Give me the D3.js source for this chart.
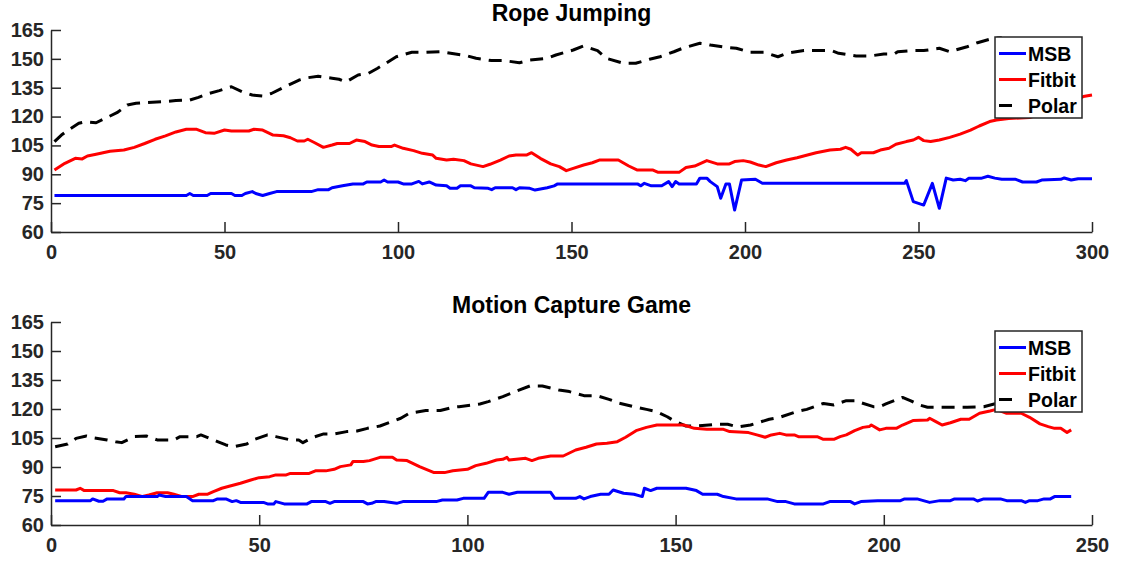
<!DOCTYPE html>
<html>
<head>
<meta charset="utf-8">
<script src="https://cdn.jsdelivr.net/npm/d3@7"></script>
<style>
  body { margin: 0; background: #fff; }
  text { font-family: "Liberation Sans", Arial, Helvetica, sans-serif; font-weight: bold; }
</style>
</head>
<body>
<script>
// Heart rate comparison: MSB vs Fitbit vs Polar

let svgWidth = 1125;
let svgHeight = 565;

let yTicks = [60, 75, 90, 105, 120, 135, 150, 165];
let seriesNames = ["MSB", "Fitbit", "Polar"];

// Rope Jumping
let ropeTicks = [0, 50, 100, 150, 200, 250, 300];
let ropeMsbT = [1, 39, 40, 41, 45, 46, 52, 53, 55, 56, 58, 59, 61, 63, 65, 75, 77, 80, 81, 84, 87, 90, 91, 95, 96, 97, 100, 101.5, 104, 106, 107, 109, 111, 114, 115, 117, 118, 121, 122, 126, 127, 128, 133, 134, 135, 138, 139.5, 143, 145, 146, 169, 170, 171, 173, 176, 178, 179, 180, 181, 186, 187, 189, 190, 192, 193, 194.5, 195.5, 197, 199, 203, 205, 246, 246.5, 248.5, 251.5, 254, 256, 258, 260, 262, 263.5, 264.5, 268, 270, 272, 274, 278, 280, 284, 285.5, 291, 292, 294, 296, 300];
let ropeMsbV = [79, 79, 80, 79, 79, 80, 80, 79, 79, 80, 81, 80, 79, 80, 81, 81, 82, 82, 83, 84, 85, 85, 86, 86, 87, 86, 86, 85, 85, 86.3, 85, 86, 84.4, 84, 82.7, 82.7, 84, 84, 83, 82.7, 82, 83, 83, 82, 83, 82.7, 81.8, 83, 84, 85, 85, 84, 85.3, 84, 84, 86.2, 83.6, 86.2, 85, 85, 88, 88, 86.2, 83.6, 77.5, 85, 85, 71.4, 87, 87.4, 85.3, 85.3, 86.7, 75.8, 74, 85.3, 72.3, 88, 87, 87.4, 86.7, 87.9, 87.9, 89, 88, 87.4, 87.4, 86, 86, 87, 87.4, 88.1, 87, 87.7, 87.7];
let ropeFitT = [1, 4, 7, 9, 10.5, 13, 17, 21, 24, 27, 30, 33, 36, 39, 42, 44.5, 47, 50, 52, 57, 58.5, 61, 64, 67, 69, 71, 73, 74, 76, 78.5, 81, 82.5, 86, 88, 90.5, 92.5, 94.5, 98, 99, 101.5, 104.5, 107, 110, 111, 114, 116, 119, 121, 124.5, 126.5, 129.5, 132, 134, 137, 138.5, 141, 144, 146.5, 148.5, 150.5, 153.5, 156, 158, 163.5, 166.5, 169, 173.5, 175, 181, 183, 185.5, 189, 192, 195.5, 197, 199.5, 201.5, 204, 206, 209, 212, 215, 218, 220.5, 224.5, 227.5, 229, 230.5, 232.5, 233.5, 237, 239, 241.5, 243.5, 246.5, 248.5, 250, 251.5, 253.5, 256, 259, 262, 265, 267.5, 270.5, 272.5, 276, 282, 288, 293, 297.5, 300];
let ropeFitV = [92.2, 95.7, 98.3, 98, 99.5, 100.4, 102, 102.6, 104, 106, 108.2, 110, 112, 113.4, 113.4, 111.6, 111.3, 113, 112.5, 112.5, 113.4, 113, 110.4, 110, 109, 107.3, 107.3, 108.2, 106.4, 104, 105.2, 106, 106, 107.8, 107, 105.2, 104.4, 104.4, 105.2, 103.5, 102.3, 100.9, 100, 98.3, 97.4, 97.8, 97.1, 95.4, 94, 95.2, 97.4, 99.5, 100, 100, 101.2, 98.3, 95.4, 94, 91.9, 93.1, 94.8, 96, 97.4, 97.4, 94.3, 92.2, 92.2, 91, 91, 93.5, 94.3, 97.1, 95.4, 95.4, 96.6, 97.1, 96.4, 94.8, 94, 96, 97.4, 98.6, 100, 101.2, 102.6, 103, 104, 103, 100, 101.2, 101.2, 102.6, 103.5, 105.6, 107, 107.8, 109.2, 107.5, 107, 107.8, 109.2, 110.9, 113, 115.1, 117.4, 118.2, 119, 119.5, 123, 127, 130.4, 131.2];
let ropePolT = [1, 3, 5, 8, 10, 13, 16, 19, 22, 24.5, 27, 32, 36, 40, 42.5, 45.5, 48.5, 52, 55, 58, 61, 63.5, 66.5, 69.5, 71.5, 74, 77, 81, 83, 85, 88.5, 91.5, 94, 96.5, 99.5, 104, 108, 112, 114, 120, 122.5, 127, 130.5, 135, 138, 143, 145.5, 150.5, 153.5, 157.5, 160, 165, 168.5, 172.5, 175.5, 179.5, 182, 187, 189, 190, 194.5, 197.5, 201.5, 205.5, 209.5, 212, 217, 225, 227, 232, 236, 240, 243, 244, 248.5, 251.5, 256, 259, 264, 267, 271.5, 274];
let ropePolV = [107, 110.4, 113, 116.5, 117.3, 116.8, 119.4, 122, 126, 126.9, 127.2, 127.7, 128.3, 128.6, 130, 132, 133.5, 135.5, 133, 131.2, 130.7, 132, 134.7, 137.3, 139, 140.2, 141, 139.9, 139.4, 138, 141.6, 142.5, 145, 147.7, 151.1, 153.4, 153.4, 153.7, 153.2, 151.5, 150.3, 149.1, 149.1, 148, 149.4, 150.3, 152, 154.6, 156.7, 154.3, 150.3, 147.7, 147.7, 149.8, 151.1, 153.7, 155.5, 158.1, 157.7, 157.2, 156, 155.5, 153.4, 153.4, 151.1, 152.9, 154.3, 154.3, 152.9, 151.5, 151.5, 152.5, 152.5, 153.7, 154.3, 154.3, 155.5, 153.7, 156.3, 158.4, 160.7, 161];

// Motion Capture Game
let gameTicks = [0, 50, 100, 150, 200, 250];
let gameMsbT = [1, 9.5, 10, 11.5, 12.5, 13.5, 17.5, 18, 25.5, 26, 27.5, 32.5, 34, 39, 40, 42, 43.5, 44.5, 45.5, 51, 52, 53.5, 54, 56, 61.5, 62.5, 66, 67, 68, 75, 76, 77, 78, 80, 83, 84.5, 92.5, 94, 97.5, 99, 104, 105, 108.5, 110, 112, 120, 121, 126, 127, 128, 129.5, 132, 134, 135, 137.5, 140, 142, 142.5, 144, 145.5, 152.5, 155, 156.5, 160, 161.5, 164.5, 172, 174.5, 176.5, 178.5, 185.5, 187, 192, 193, 194.5, 198.5, 204, 205, 208, 211, 213.5, 216, 217, 221.5, 222.5, 224, 228, 229.5, 233, 234, 235, 237, 238.5, 240, 241, 245];
let gameMsbV = [72.6, 72.6, 73.5, 72.3, 72.3, 73.5, 73.5, 74.7, 74.7, 75.5, 74.7, 74.7, 72.6, 72.6, 73.5, 73.5, 72.1, 72.6, 71.7, 71.7, 70.9, 70.9, 72.1, 70.9, 70.9, 72.1, 72.1, 71.2, 72.1, 72.1, 70.9, 71.2, 72.1, 72.1, 71.2, 72.1, 72.1, 72.9, 72.9, 73.8, 73.8, 76.9, 76.9, 75.9, 76.9, 76.9, 73.8, 73.8, 74.7, 73.5, 74.7, 75.9, 75.9, 78.1, 76.4, 75.9, 74.7, 79, 77.8, 79, 79, 77.8, 75.9, 75.9, 74.7, 73.5, 73.5, 72.1, 72.1, 70.9, 70.9, 72.1, 72.1, 70.9, 72.1, 72.6, 72.6, 73.5, 73.5, 71.7, 72.6, 72.6, 73.5, 73.5, 72.4, 73.5, 73.5, 72.6, 72.6, 71.7, 72.6, 72.6, 73.5, 73.5, 74.7, 74.7];
let gameFitT = [1, 6, 7, 8, 15, 16.5, 18, 20, 22, 23.5, 25.5, 28, 29.5, 31.5, 34, 35.5, 37.5, 39, 41, 43, 45.5, 48, 50, 52.5, 54, 56.5, 57.5, 62, 63.5, 66, 68, 69.5, 72, 72.5, 75, 76.5, 79, 82, 83, 85.5, 88.5, 92, 94.5, 96.5, 100, 102, 104.5, 107, 108.5, 109.5, 110, 114, 115.5, 117, 120, 123, 126, 128.5, 131, 133.5, 136, 138, 140.5, 143, 145.5, 152, 154.5, 157.5, 161.5, 163, 167.5, 169.5, 171.5, 173, 175, 176.5, 178.5, 179.5, 184, 185.5, 188, 189.5, 191, 193, 195, 196.5, 197, 199, 200.5, 203, 204.5, 207, 210.5, 211, 212.5, 214, 216, 218.5, 220.5, 223, 225.5, 227, 229.5, 233, 235, 237.5, 239.5, 241, 242.5, 244, 245];
let gameFitV = [78.1, 78.1, 79, 77.8, 77.8, 76.7, 76.7, 75.9, 74.7, 75.5, 76.7, 76.7, 75.9, 74.7, 74.7, 75.9, 75.9, 77.3, 79, 80.2, 81.6, 83.3, 84.5, 85, 85.9, 85.9, 86.7, 86.7, 88, 88, 88.8, 90.2, 91.1, 92.8, 92.8, 93.3, 95, 95, 93.6, 93.3, 90.2, 87.1, 87.1, 88.1, 88.8, 90.7, 91.9, 93.6, 94, 95, 93.6, 94.5, 93.3, 94.5, 95.7, 95.7, 98.8, 100.2, 101.9, 102.3, 103.1, 105.4, 108.8, 110.5, 111.7, 111.7, 110, 109.5, 109.5, 108.3, 107.8, 106.6, 105.4, 106.6, 107.4, 106.6, 106.6, 105.7, 105.7, 104.3, 104.3, 105.7, 106.6, 108.8, 110.5, 110.9, 111.7, 109.2, 110, 110, 111.7, 114, 114.3, 115.2, 113.5, 111.7, 112.9, 114.7, 114.7, 117.8, 119, 119.8, 117.8, 117.8, 115.7, 112.3, 110.9, 110, 110, 107.8, 109.2];
let gamePolT = [1, 4, 6, 8.5, 10, 13.5, 15.5, 17, 20, 23, 25.5, 29.5, 31, 35, 36, 40, 42, 44, 47, 48.5, 52, 54, 57.5, 59.5, 60.5, 63, 65.5, 68, 71, 73.5, 76, 79, 84, 86, 90, 93.5, 96.5, 98, 103, 105, 108.5, 112, 115, 118, 122, 124.5, 128, 131, 134, 136.5, 140.5, 143, 145.5, 148, 149.5, 152.5, 155, 160, 162.5, 165, 168, 172.5, 175, 179, 181.5, 185.5, 188, 191, 193.5, 194.5, 197.5, 199, 200.5, 204.5, 206.5, 208.5, 210.5, 213.5, 216.5, 220, 224, 226.5, 232, 240, 245];
let gamePolV = [100.5, 101.9, 104.8, 106, 105.2, 104, 103.1, 102.6, 105.7, 106, 104, 104, 105.7, 105.7, 106.6, 103.1, 101.4, 100.5, 101.9, 104, 106.6, 105.7, 104, 104, 102.6, 105.4, 107.1, 107.1, 108.3, 108.6, 110, 111.2, 115.2, 117.8, 119.2, 119.2, 120.9, 121.2, 122.6, 123.8, 126.4, 129.5, 131.9, 131.9, 129.8, 129, 126.9, 126.9, 125, 123, 120.9, 119.8, 118.6, 116, 114, 111.2, 111.2, 112.1, 112.1, 110.7, 111.7, 114.7, 115.7, 118.6, 119.8, 122.9, 122.1, 124.3, 124.3, 123.3, 121.2, 121.2, 122.6, 126, 124.2, 122.1, 120.9, 120.9, 120.9, 120.9, 121.2, 122.6, 124, 126, 126.5];

let colors = { MSB: "#0000ff", Fitbit: "#ff0000", Polar: "#000000" };

let svg = d3.select("body")
            .append("svg")
            .attr("width", svgWidth)
            .attr("height", svgHeight);

function toPoints(t, v) {
    return t.map((d, i) => [d, v[i]]);
}

function drawPanel(opt) {
    let width = opt.right - opt.left;
    let height = opt.bottom - opt.top;

    let g = svg.append("g")
               .attr("transform", `translate(${opt.left}, ${opt.top})`);

    let xScale = d3.scaleLinear()
                   .domain([0, opt.xMax])
                   .range([0, width]);
    let yScale = d3.scaleLinear()
                   .domain([60, 165])
                   .range([height, 0]);

    let line = d3.line()
                 .x(d => xScale(d[0]))
                 .y(d => yScale(d[1]));

    // data lines
    let series = [
        { name: "Polar", pts: toPoints(opt.polT, opt.polV), dash: "13,8" },
        { name: "Fitbit", pts: toPoints(opt.fitT, opt.fitV), dash: null },
        { name: "MSB", pts: toPoints(opt.msbT, opt.msbV), dash: null }
    ];
    series.forEach(s => {
        g.append("path")
         .datum(s.pts)
         .attr("d", line)
         .attr("fill", "none")
         .attr("stroke", colors[s.name])
         .attr("stroke-width", 3)
         .attr("stroke-linejoin", "round")
         .attr("stroke-dasharray", s.dash);
    });

    // axes (ticks pointing in, MATLAB style)
    let xAxis = d3.axisBottom(xScale)
                  .tickValues(opt.xTicks)
                  .tickSizeInner(-10)
                  .tickSizeOuter(0)
                  .tickPadding(13);
    let yAxis = d3.axisLeft(yScale)
                  .tickValues(yTicks)
                  .tickSizeInner(-10)
                  .tickSizeOuter(0)
                  .tickPadding(7);

    let gx = g.append("g")
              .attr("transform", `translate(0, ${height})`)
              .call(xAxis);
    let gy = g.append("g").call(yAxis);

    [gx, gy].forEach(a => {
        a.select(".domain").attr("stroke", "#262626").attr("stroke-width", 1.5);
        a.selectAll(".tick line").attr("stroke", "#262626").attr("stroke-width", 1.5);
        a.selectAll(".tick text")
         .attr("fill", "#262626")
         .attr("font-size", "20px")
         .attr("font-weight", "bold")
         .attr("font-family", "'Liberation Sans', Arial, sans-serif");
    });

    // title
    g.append("text")
     .attr("x", width / 2)
     .attr("y", -9)
     .attr("text-anchor", "middle")
     .attr("font-size", "23px")
     .attr("fill", "#000")
     .text(opt.title);

    // legend
    let lg = svg.append("g")
                .attr("transform", `translate(${opt.legendX}, ${opt.legendY})`);
    lg.append("rect")
      .attr("width", 87)
      .attr("height", 81)
      .attr("fill", "#fff")
      .attr("stroke", "#262626")
      .attr("stroke-width", 1.5);
    seriesNames.forEach((name, i) => {
        let y = 16.5 + i * 26;
        lg.append("line")
          .attr("x1", 4)
          .attr("x2", name === "Polar" ? 17 : 31)
          .attr("y1", y)
          .attr("y2", y)
          .attr("stroke", colors[name])
          .attr("stroke-width", 3);
        lg.append("text")
          .attr("x", 33)
          .attr("y", y)
          .attr("dy", "0.36em")
          .attr("font-size", "19.5px")
          .attr("fill", "#000")
          .text(name);
    });
}

drawPanel({
    title: "Rope Jumping",
    left: 51, right: 1092, top: 30, bottom: 232,
    xMax: 300, xTicks: ropeTicks,
    msbT: ropeMsbT, msbV: ropeMsbV,
    fitT: ropeFitT, fitV: ropeFitV,
    polT: ropePolT, polV: ropePolV,
    legendX: 995, legendY: 37
});

drawPanel({
    title: "Motion Capture Game",
    left: 51, right: 1092, top: 322, bottom: 525,
    xMax: 250, xTicks: gameTicks,
    msbT: gameMsbT, msbV: gameMsbV,
    fitT: gameFitT, fitV: gameFitV,
    polT: gamePolT, polV: gamePolV,
    legendX: 995, legendY: 331
});
</script>
</body>
</html>
